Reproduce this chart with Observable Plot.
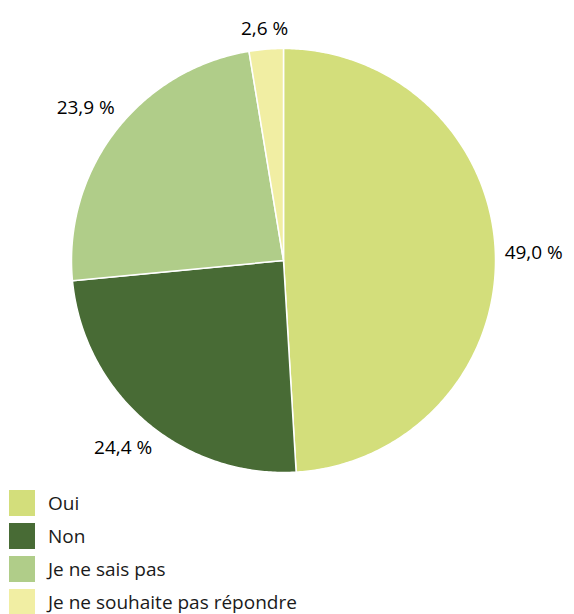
<!DOCTYPE html>
<html><head><meta charset="utf-8">
<script src="https://cdn.jsdelivr.net/npm/d3@7"></script>
<script src="https://cdn.jsdelivr.net/npm/@observablehq/plot@0.6"></script>
<style>
body{margin:0;background:#fff;font-family:"Open Sans",sans-serif;}
#legend{margin:6px 0 0 9px;}
.row{display:flex;align-items:center;height:33px;}
.sw{width:26px;height:26px;margin-right:13px;flex:none;}
.lab{font-size:19px;color:#1a1a1a;white-space:nowrap;}
</style></head>
<body><div id="chart"></div><div id="legend"></div>
<script>
const categories = ["Oui", "Non", "Je ne sais pas", "Je ne souhaite pas répondre"];
const values = [49.0, 24.4, 23.9, 2.6];
const labels = ["49,0 %", "24,4 %", "23,9 %", "2,6 %"];
const colors = ["#d3de7b", "#486b35", "#b0cd89", "#f1eea3"];

const R = 212; // pixel radius
const total = d3.sum(values);
let acc = 0;
const slices = categories.map((c, i) => {
  const a0 = acc / total * 2 * Math.PI;
  acc += values[i];
  const a1 = acc / total * 2 * Math.PI;
  return {c, v: values[i], a0, a1, label: labels[i]};
});
const poly = [];
slices.forEach(s => {
  const n = Math.max(4, Math.ceil((s.a1 - s.a0) / 0.01));
  poly.push({c: s.c, x: 0, y: 0});
  for (let k = 0; k <= n; k++) {
    const a = s.a0 + (s.a1 - s.a0) * k / n;
    poly.push({c: s.c, x: Math.sin(a), y: Math.cos(a)});
  }
  poly.push({c: s.c, x: 0, y: 0});
});
const ctx = document.createElement("canvas").getContext("2d");
ctx.font = "19px 'Open Sans'";
const gap = 9;
const labs = slices.map(s => {
  const m = (s.a0 + s.a1) / 2;
  const dx = Math.sin(m), dy = Math.cos(m);
  const hw = ctx.measureText(s.label).width / 2, hh = 9;
  const ext = Math.abs(dx) * hw + Math.abs(dy) * hh;
  const rr = 1 + (gap + ext) / R;
  return {label: s.label, x: dx * rr, y: dy * rr};
});

const plot = Plot.plot({
  width: 574, height: 480,
  marginLeft: 71, marginRight: 79, marginTop: 48, marginBottom: 8,
  x: {domain: [-1, 1], axis: null},
  y: {domain: [-1, 1], axis: null},
  color: {domain: categories, range: colors},
  marks: [
    Plot.line(poly, {x: "x", y: "y", z: "c", fill: "c", stroke: "white", strokeWidth: 1.5, curve: "linear-closed"}),
    Plot.text(labs, {x: "x", y: "y", text: "label", fontSize: 19, fill: "#000", fontFamily: "Open Sans", textAnchor: "middle"})
  ]
});
document.getElementById("chart").appendChild(plot);
const lg = document.getElementById("legend");
categories.forEach((c, i) => {
  const r = document.createElement("div"); r.className = "row";
  r.innerHTML = `<div class="sw" style="background:${colors[i]}"></div><span class="lab">${c}</span>`;
  lg.appendChild(r);
});
</script></body></html>
